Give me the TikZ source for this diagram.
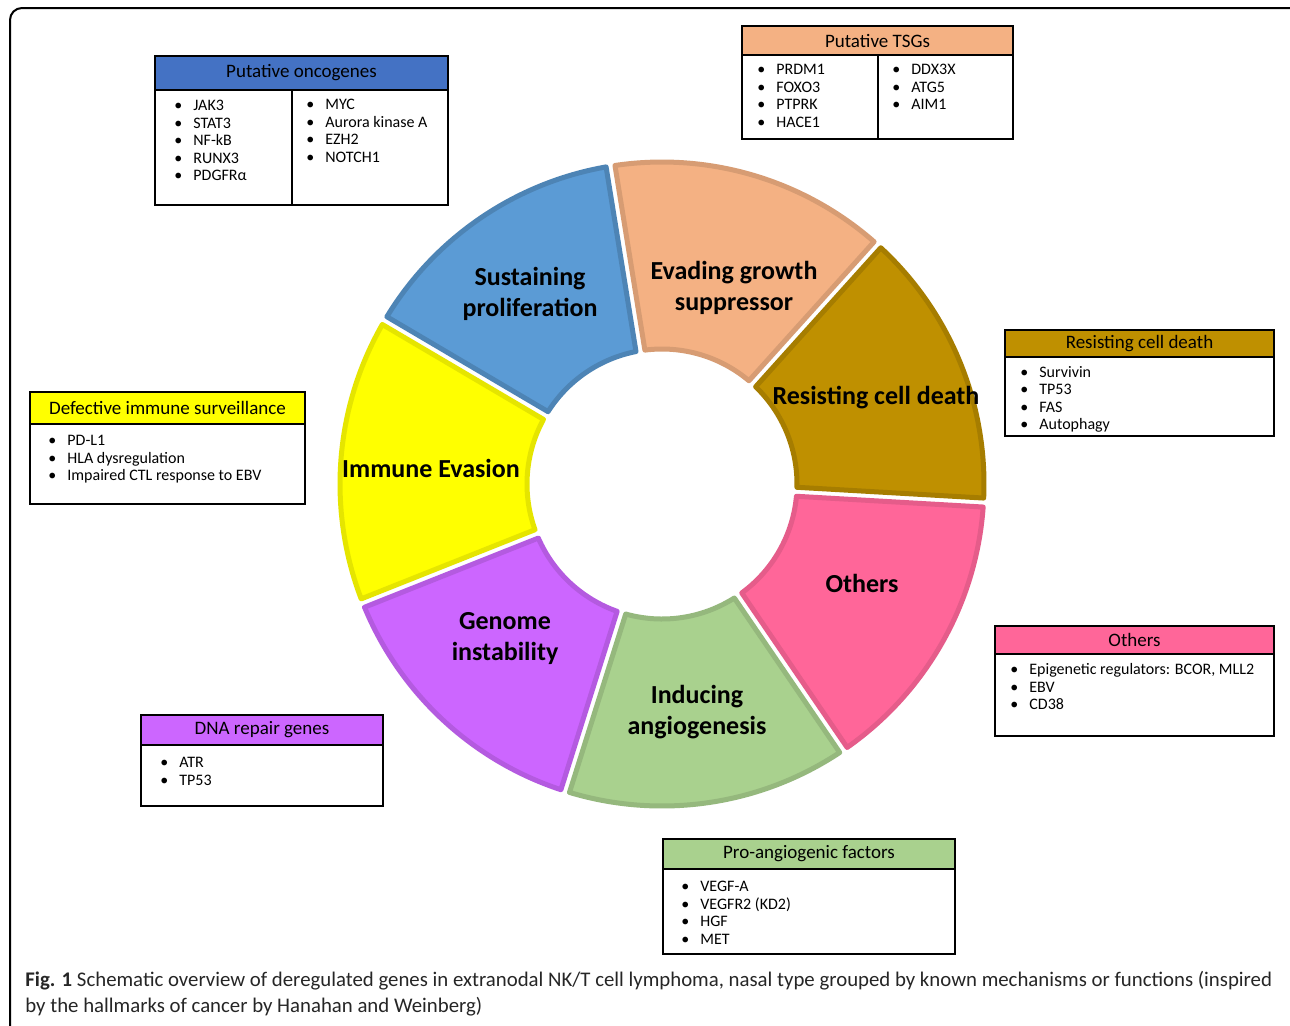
\documentclass[tikz,border=0pt]{standalone}
\usepackage{fontspec}
\setmainfont{Carlito}
\usepackage{xcolor}
\usepackage{tikz}

\definecolor{oncoblue}{HTML}{4472C4}
\definecolor{tsgorange}{HTML}{F4B183}
\definecolor{deathbrown}{HTML}{BF9000}
\definecolor{immyellow}{HTML}{FFFF00}
\definecolor{otherpink}{HTML}{FF6699}
\definecolor{dnapurple}{HTML}{CC66FF}
\definecolor{angiogreen}{HTML}{A9D18E}
\definecolor{ringblue}{HTML}{5B9BD5}

% bullet with fixed indent
\newcommand{\itembul}{\makebox[9.5pt][l]{\textbullet}}
% one part of the ring: fill, border, from angle, to angle
\newcommand{\ringpart}[4]{%
  \filldraw[ring, fill=#1, draw=#2]
    ({#3+asin(4.5/322)}:322) arc[start angle={#3+asin(4.5/322)}, end angle={#4-asin(4.5/322)}, radius=322]
    -- ({#4-asin(4.5/135)}:135) arc[start angle={#4-asin(4.5/135)}, end angle={#3+asin(4.5/135)}, radius=135] -- cycle;}

\begin{document}
\begin{tikzpicture}[
  x=0.5pt, y=0.5pt,
  ring/.style={line width=2.5pt, line join=round},
  head/.style={draw, line width=1pt, inner sep=0pt, font=\fontsize{9.5}{11}\selectfont},
  boxline/.style={draw, line width=1pt},
  items/.style={anchor=north west, inner sep=0pt, align=left, font=\fontsize{8}{8.75}\selectfont},
  seg/.style={inner sep=0pt, align=center, font=\fontsize{13}{15.5}\selectfont\bfseries}
]
\useasboundingbox (0,0) rectangle (1290,-1025);
\fill[white] (0,0) rectangle (1290,-1025);
\clip (0,0) rectangle (1290,-1025);

% frame
\draw[line width=1pt, rounded corners=6pt] (10,-8) rectangle (1310,-1045);

% ring of hallmarks
\begin{scope}[shift={(662,-484)}]
\ringpart{ringblue}{ringblue!85!black}{99.2}{149.5}
\ringpart{tsgorange}{tsgorange!88!black}{48}{99.2}
\ringpart{deathbrown}{deathbrown!87!black}{-3.3}{48}
\ringpart{otherpink}{otherpink!90!black}{-55.7}{-3.3}
\ringpart{angiogreen}{angiogreen!88!black}{-107.5}{-55.7}
\ringpart{dnapurple}{dnapurple!88!black}{-158.3}{-107.5}
\ringpart{immyellow}{immyellow!90!black}{149.5}{201.7}
\end{scope}

% ring labels
\node[seg] (sustain) at (530,-294) {Sustaining\\proliferation};
\node[seg] (evade) at (734,-288) {Evading growth\\suppressor};
\node[seg] (resist) at (876,-398) {Resisting cell death};
\node[seg] (others) at (862,-583) {Others};
\node[seg] (angio) at (697,-712) {Inducing\\angiogenesis};
\node[seg] (genome) at (505,-638) {Genome\\instability};
\node[seg] (immune) at (431,-468) {Immune Evasion};

% Putative oncogenes
\node[head, fill=oncoblue, minimum width=146.5pt, minimum height=17pt] (oncoHead) at (301.5,-73) {Putative oncogenes};
\draw[boxline] (155,-90) rectangle (292,-205);
\draw[boxline] (292,-90) rectangle (448,-205);
\node[items] (oncoLeft) at (174,-100) {\itembul JAK3\\\itembul STAT3\\\itembul NF-kB\\\itembul RUNX3\\\itembul PDGFR\symbol{"03B1}};
\node[items] (oncoRight) at (306,-99) {\itembul MYC\\\itembul Aurora kinase A\\\itembul EZH2\\\itembul NOTCH1};

% Putative TSGs
\node[head, fill=tsgorange, minimum width=135.5pt, minimum height=14.5pt] (tsgHead) at (877.5,-40.5) {Putative TSGs};
\draw[boxline] (742,-55) rectangle (878,-139);
\draw[boxline] (878,-55) rectangle (1013,-139);
\node[items] (tsgLeft) at (757,-64) {\itembul PRDM1\\\itembul FOXO3\\\itembul PTPRK\\\itembul HACE1};
\node[items] (tsgRight) at (892,-64) {\itembul DDX3X\\\itembul ATG5\\\itembul AIM1};

% Resisting cell death
\node[head, fill=deathbrown, minimum width=134.5pt, minimum height=13.5pt] (deathHead) at (1139.5,-343.5) {Resisting cell death};
\draw[boxline] (1005,-357) rectangle (1274,-436);
\node[items] (deathList) at (1020,-366) {\itembul Survivin\\\itembul TP53\\\itembul FAS\\\itembul Autophagy};

% Defective immune surveillance
\node[head, fill=immyellow, minimum width=137.5pt, minimum height=16pt] (immHead) at (167.5,-408) {Defective immune surveillance};
\draw[boxline] (30,-424) rectangle (305,-504);
\node[items] (immList) at (48,-435) {\itembul PD-L1\\\itembul HLA dysregulation\\\itembul Impaired CTL response to EBV};

% Others
\node[head, fill=otherpink, minimum width=139.5pt, minimum height=14pt] (otherHead) at (1134.5,-640) {Others};
\draw[boxline] (995,-654) rectangle (1274,-736);
\node[items] (otherList) at (1010,-663) {\itembul Epigenetic regulators: BCOR, MLL2\\\itembul EBV\\\itembul CD38};

% DNA repair genes
\node[head, fill=dnapurple, minimum width=121pt, minimum height=15pt] (dnaHead) at (262,-730) {DNA repair genes};
\draw[boxline] (141,-745) rectangle (383,-806);
\node[items] (dnaList) at (160,-757) {\itembul ATR\\\itembul TP53};

% Pro-angiogenic factors
\node[head, fill=angiogreen, minimum width=146pt, minimum height=15pt] (angioHead) at (809,-854) {Pro-angiogenic factors};
\draw[boxline] (663,-869) rectangle (955,-954);
\node[items] (angioList) at (681,-881) {\itembul VEGF-A\\\itembul VEGFR2 (KD2)\\\itembul HGF\\\itembul MET};

% caption
\node[anchor=north west, inner sep=0pt, align=left, text=black!85, font=\fontsize{10.4}{13}\selectfont] (caption) at (25,-971)
  {\textbf{Fig. 1} Schematic overview of deregulated genes in extranodal NK/T cell lymphoma, nasal type grouped by known mechanisms or functions (inspired\\by the hallmarks of cancer by Hanahan and Weinberg)};
\end{tikzpicture}
\end{document}
